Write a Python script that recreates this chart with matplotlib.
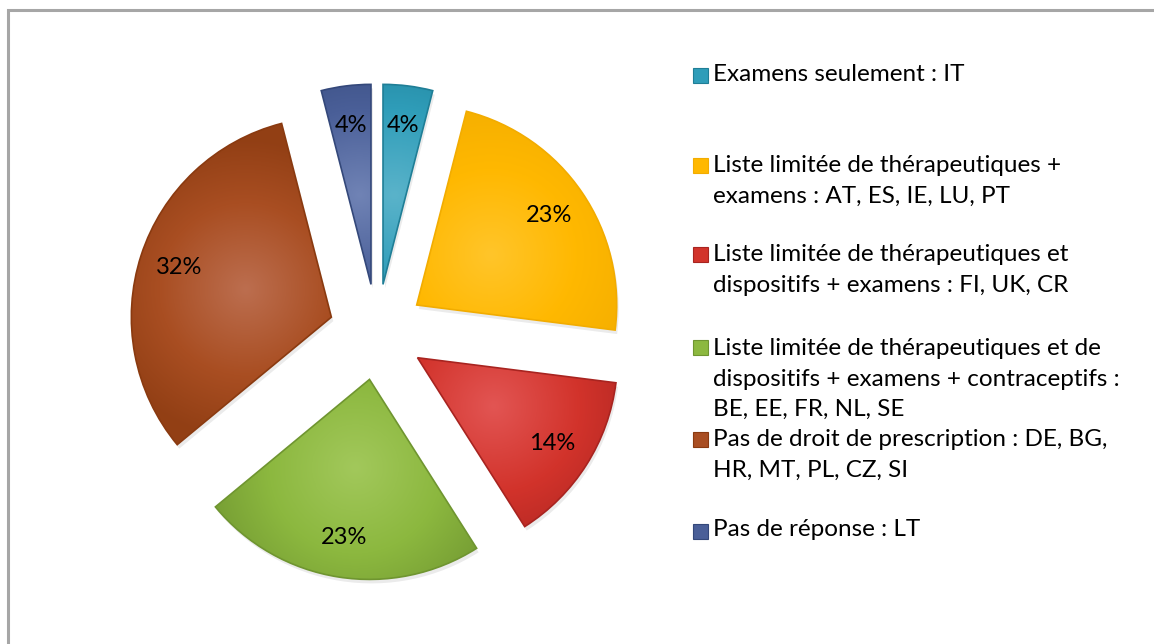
import numpy as np
import matplotlib
matplotlib.use("Agg")
import matplotlib.pyplot as plt
from matplotlib.patches import Rectangle, Wedge
from matplotlib.colors import LinearSegmentedColormap

# ---- data ----
categories = [
    "Examens seulement : IT",
    "Liste limitée de thérapeutiques +\nexamens : AT, ES, IE, LU, PT",
    "Liste limitée de thérapeutiques et\ndispositifs + examens : FI, UK, CR",
    "Liste limitée de thérapeutiques et de\ndispositifs + examens + contraceptifs :\nBE, EE, FR, NL, SE",
    "Pas de droit de prescription : DE, BG,\nHR, MT, PL, CZ, SI",
    "Pas de réponse : LT",
]
values = [4, 23, 14, 23, 32, 4]

# ---- style ----
base_colors = ["#2F9DB9", "#FFB800", "#D2332B", "#8CB83F", "#A94E22", "#4A5F98"]
light_colors = ["#5AB3CA", "#FFC52A", "#E25553", "#A2C85B", "#BC6E4F", "#7083B5"]
edge_colors = ["#1F7E96", "#F2AC00", "#A82420", "#6F9530", "#8A3A10", "#34487A"]
FONT = ["Lato", "DejaVu Sans"]

W, H = 1154, 644
fig = plt.figure(figsize=(W / 100, H / 100), dpi=100)
ax = fig.add_axes([0, 0, 1, 1])

R = 200
cx, cy = 377, H - 332
wedges, texts, autotexts = ax.pie(
    values, radius=R, center=(cx, cy), startangle=90, counterclock=False,
    explode=[0.24 * R] * len(values), colors=base_colors, autopct="%.0f%%",
    pctdistance=0.8, frame=True,
    wedgeprops=dict(linewidth=1.2),
    textprops=dict(fontsize=17, family=FONT, color="black"),
)
ax.set_xlim(0, W)
ax.set_ylim(0, H)
ax.set_aspect("equal")
ax.axis("off")

# frame
ax.add_patch(Rectangle((8, -20), W + 40, H - 10 + 20, fill=False,
                       edgecolor="#A6A6A6", linewidth=2.2, zorder=0))

# radial gradient fill + soft shadow
for i, w in enumerate(wedges):
    w.set_edgecolor(edge_colors[i])
    c = np.array(w.center)
    tm = np.deg2rad((w.theta1 + w.theta2) / 2)
    hc = c + 0.45 * R * np.array([np.cos(tm), np.sin(tm)])
    x0, x1 = c[0] - R - 5, c[0] + R + 5
    y0, y1 = c[1] - R - 5, c[1] + R + 5
    xs = np.linspace(x0, x1, 300)
    ys = np.linspace(y0, y1, 300)
    X, Y = np.meshgrid(xs, ys)
    d = np.sqrt((X - hc[0]) ** 2 + (Y - hc[1]) ** 2) / (0.75 * R)
    d = np.clip(d, 0, 1)
    cmap = LinearSegmentedColormap.from_list(
        "g%d" % i, [light_colors[i], base_colors[i], edge_colors[i]])
    im = ax.imshow(d, extent=(x0, x1, y0, y1), origin="lower", cmap=cmap,
                   vmin=0, vmax=1.15, interpolation="bilinear", zorder=1.5)
    im.set_clip_path(w)
    w.set_zorder(1.6)
    w.set_facecolor("none")
    sh = Wedge((c[0] + 2, c[1] - 4), R, w.theta1, w.theta2,
               facecolor="#000000", alpha=0.08, edgecolor="none", zorder=1.0)
    ax.add_patch(sh)

for t in autotexts:
    t.set_zorder(3)

# legend (manual placement)
legend_y = [74, 181, 270, 379, 455, 530]
line_h = 32.5
sq = 15
for i, (lab, y) in enumerate(zip(categories, legend_y)):
    nlines = lab.count("\n") + 1
    top_line_y = y - (nlines - 1) * line_h / 2
    ax.add_patch(Rectangle((693, H - top_line_y - sq / 2 - 1), sq, sq,
                           facecolor=base_colors[i], edgecolor=edge_colors[i],
                           linewidth=0.8, zorder=2))
    ax.text(713, H - y, lab, fontsize=17.5, family=FONT, va="center",
            ha="left", linespacing=1.53, color="black")

fig.savefig("out.png", dpi=100)
